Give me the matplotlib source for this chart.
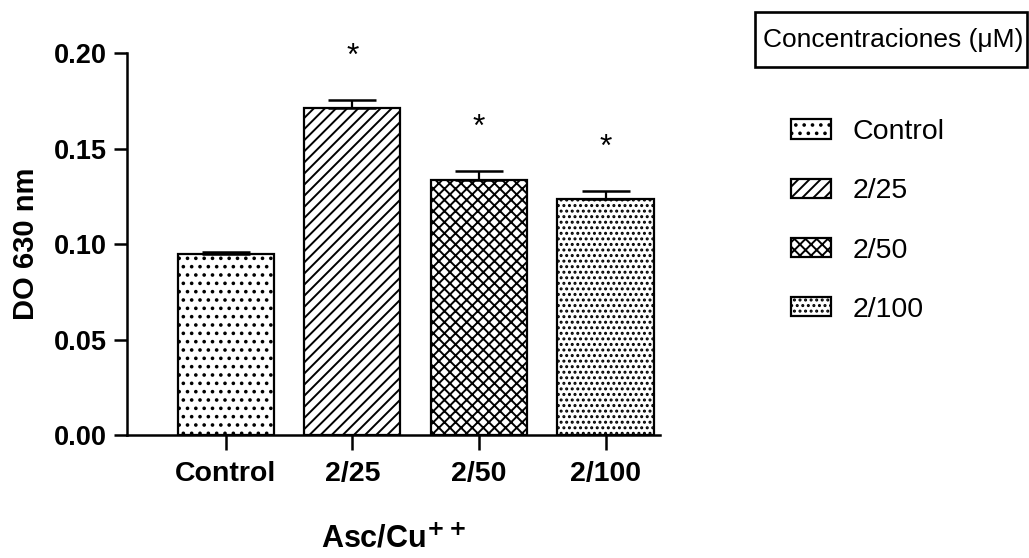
import matplotlib
matplotlib.use("Agg")
import matplotlib.pyplot as plt
from matplotlib.patches import Rectangle

plt.rcParams['font.family'] = ['Liberation Sans', 'DejaVu Sans']
plt.rcParams['hatch.linewidth'] = 1.4

categories = ["Control", "2/25", "2/50", "2/100"]
means = [0.0948, 0.1712, 0.1335, 0.1236]
sems = [0.0010, 0.0043, 0.0047, 0.0042]
significant = [False, True, True, True]
hatches = ["..", "///", "xxx", "..."]
legend_title = "Concentraciones (\u03bcM)"
yticks = [0.00, 0.05, 0.10, 0.15, 0.20]

W, H = 1029, 558
fig = plt.figure(figsize=(W / 100, H / 100), dpi=100)
ax = fig.add_axes([0.1234, 0.2204, 0.5180, 0.6846])

x = list(range(len(categories)))
bars = []
for i, (m, s, h, c) in enumerate(zip(means, sems, hatches, categories)):
    b = ax.bar(i, m, width=0.76, color="white", edgecolor="black",
               linewidth=1.6, hatch=h, label=c, zorder=2)
    bars.append(b)
    ax.errorbar(i, m, yerr=[[0], [s]], fmt="none", ecolor="black",
                elinewidth=1.6, capsize=17, capthick=1.8, zorder=3)
    if significant[i]:
        ax.text(i, m + s + 0.0225, "*", ha="center", va="center",
                fontsize=23)

ax.set_xlim(-0.78, 3.43)
ax.set_ylim(0, 0.20)
ax.set_yticks(yticks)
ax.set_yticklabels([f"{v:.2f}" for v in yticks], fontsize=19.5, fontweight="bold")
ax.set_xticks(x)
ax.set_xticklabels(categories, fontsize=20.5, fontweight="bold")
for sp in ["top", "right"]:
    ax.spines[sp].set_visible(False)
for sp in ["left", "bottom"]:
    ax.spines[sp].set_linewidth(1.8)
ax.tick_params(axis="y", length=9.5, width=1.8, pad=5)
ax.tick_params(axis="x", length=11, width=1.8, pad=8)

ax.set_ylabel("DO 630 nm", fontsize=21, fontweight="bold", labelpad=10)
ax.set_xlabel(r"Asc/Cu$^{\mathbf{++}}$", fontsize=22, fontweight="bold", labelpad=27)

# legend title box
fig.add_artist(Rectangle((755 / W, 1 - 67 / H), (1027 - 755) / W, 55 / H,
                         transform=fig.transFigure, facecolor="white",
                         edgecolor="black", linewidth=1.9))
fig.text(763 / W, 1 - 40 / H, legend_title, ha="left", va="center", fontsize=19)

leg = fig.legend(handles=[b[0] for b in bars], labels=categories,
                 loc="upper left", bbox_to_anchor=(791 / W, 1 - 119 / H),
                 frameon=False, fontsize=20.5, handlelength=1.4,
                 handleheight=0.65, handletextpad=0.75, labelspacing=1.17,
                 borderpad=0, borderaxespad=0)

fig.savefig("out.png", dpi=100)
